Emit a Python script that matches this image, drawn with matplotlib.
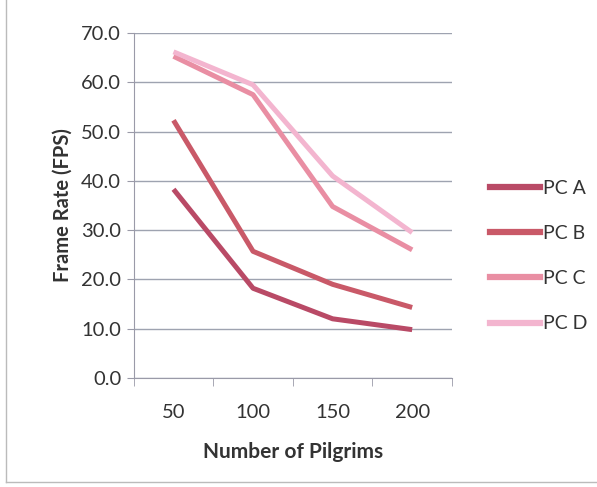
import matplotlib.pyplot as plt
from matplotlib.lines import Line2D

# ---- data ----
pilgrims = ['50', '100', '150', '200']
pc_a = [38.3, 18.2, 12.0, 9.8]
pc_b = [52.3, 25.7, 19.0, 14.3]
pc_c = [65.3, 57.5, 34.8, 26.0]
pc_d = [66.2, 59.5, 41.0, 29.5]
series_names = ['PC A', 'PC B', 'PC C', 'PC D']
colors = ['#b94a66', '#c95968', '#e98ea3', '#f3b5cf']

plt.rcParams['font.family'] = ['Lato', 'DejaVu Sans']

fig = plt.figure(figsize=(5.97, 4.87), dpi=100)
ax = fig.add_axes([0.224, 0.224, 0.533, 0.708])

x = range(len(pilgrims))
for vals, name, c in zip([pc_a, pc_b, pc_c, pc_d], series_names, colors):
    ax.plot(x, vals, color=c, lw=3.6, label=name, solid_capstyle='butt')

ax.set_xlim(-0.5, len(pilgrims) - 0.5)
ax.set_ylim(0, 70)
ax.set_yticks(range(0, 71, 10))
ax.set_yticklabels([f'{v:.1f}' for v in range(0, 71, 10)])
ax.set_xticks([i for i in x])
ax.set_xticklabels(pilgrims)
ax.set_xticks([i - 0.5 for i in range(len(pilgrims) + 1)], minor=True)
ax.tick_params(axis='x', which='major', length=0, pad=19, labelsize=14.5, colors='#333333')
ax.tick_params(axis='x', which='minor', length=6, color='#9a9aa8', direction='out')
ax.tick_params(axis='y', length=5, colors='#9a9aa8', labelcolor='#333333', labelsize=14.5, pad=4)

ax.grid(axis='y', color='#9ea3b0', lw=1.0)
ax.set_axisbelow(True)
for s in ['top', 'right']:
    ax.spines[s].set_visible(False)
for s in ['left', 'bottom']:
    ax.spines[s].set_color('#9a9aa8')

ax.set_xlabel('Number of Pilgrims', fontsize=15, fontweight='bold', color='#333333', labelpad=15)
ax.set_ylabel('Frame Rate (FPS)', fontsize=14.5, fontweight='bold', color='#333333', labelpad=6)

handles = [Line2D([0], [0], color=c, lw=4.5) for c in colors]
fig.legend(handles, series_names, loc='center left', bbox_to_anchor=(0.82, 0.474),
           frameon=False, fontsize=14, handlelength=2.6, handletextpad=0.15,
           labelspacing=1.45, labelcolor='#333333', borderpad=0, borderaxespad=0)

# faint chart border at left and bottom
fig.add_artist(Line2D([0.01, 0.01], [0.01, 1.0], color='#bbbbbb', lw=1, transform=fig.transFigure))
fig.add_artist(Line2D([0.01, 1.0], [0.01, 0.01], color='#bbbbbb', lw=1, transform=fig.transFigure))

fig.savefig('out.png', dpi=100)
